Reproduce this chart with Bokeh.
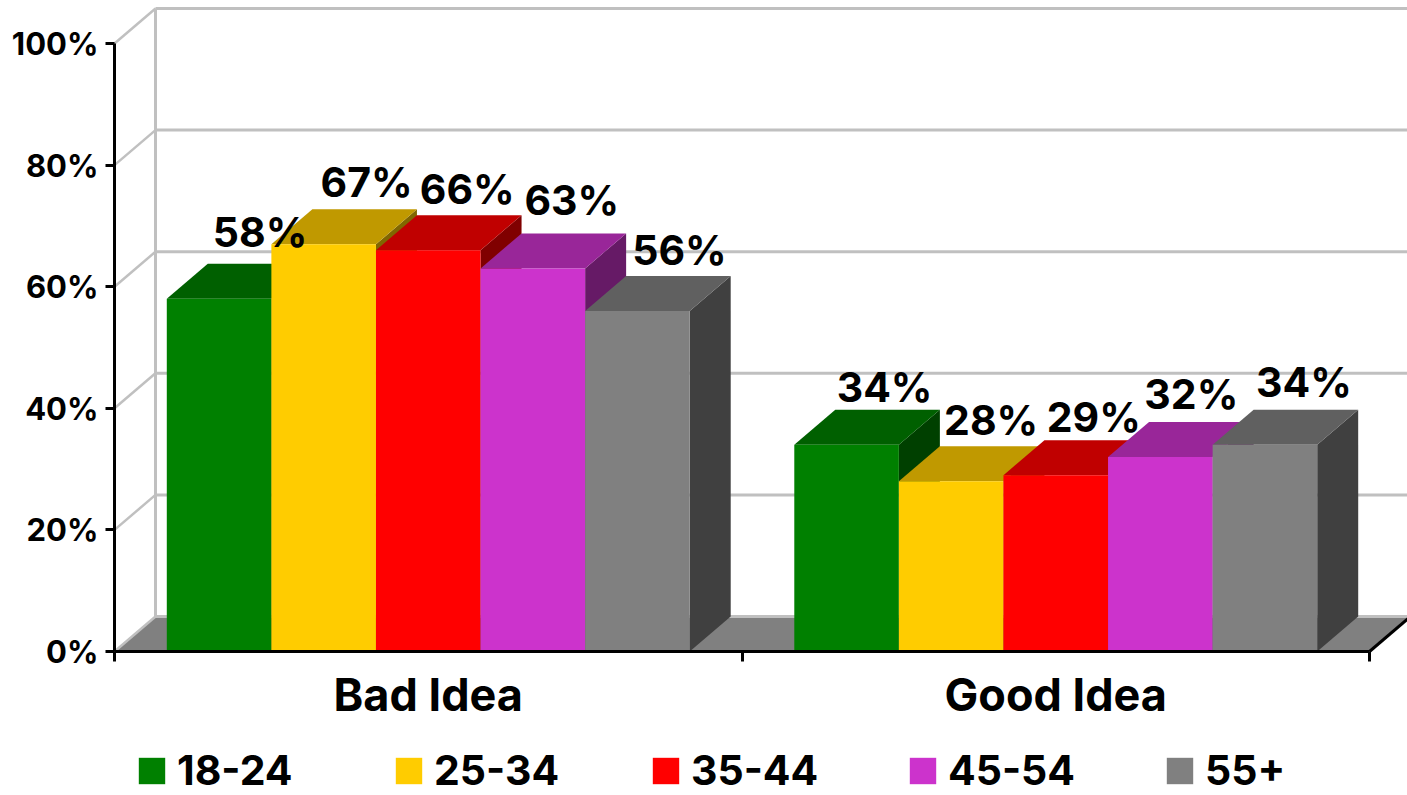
from bokeh.plotting import figure
from bokeh.embed import file_html
from bokeh.resources import INLINE
from bokeh.models import FixedTicker, Legend, LegendItem
from bokeh.core.properties import value

categories = ["Bad Idea", "Good Idea"]
series_names = ["18-24", "25-34", "35-44", "45-54", "55+"]
bad_idea = [58, 67, 66, 63, 56]
good_idea = [34, 28, 29, 32, 34]
front_colors = ["#008000", "#FFCC00", "#FF0000", "#CC33CC", "#808080"]
top_colors = ["#006000", "#C09900", "#C00000", "#992699", "#606060"]
side_colors = ["#004000", "#806600", "#800000", "#661A66", "#404040"]
y_ticks = [0, 20, 40, 60, 80, 100]

FONT = "Inter"
PX_X = 627.5   # pixels per category
PX_Y = 6.08    # pixels per percent
DX = 41 / PX_X
DY = 35 / PX_Y
BAR = 1 / 6
XMIN = -114 / PX_X
XMAX = 1293 / PX_X
YMIN = -144 / PX_Y
YMAX = 651 / PX_Y
GRID = "#C0C0C0"
# hand placement of the data labels in the original, in pixels
nudge_x = [[0, 2, -2, -2, 1], [-3, -1, -3, -10, -2]]
nudge_up = [[16, 11, 10, 18, 10], [7, 10, 7, 12, 12]]

p = figure(width=1407, height=795, output_backend="svg", toolbar_location=None,
           x_range=(XMIN, XMAX), y_range=(YMIN, YMAX),
           min_border_left=0, min_border_right=0, min_border_top=0, min_border_bottom=0)
p.outline_line_color = None
p.grid.visible = False
p.background_fill_color = "white"
p.border_fill_color = "white"

# back wall, side wall and floor
p.patch([0, DX, 2 + DX, 2], [0, DY, DY, 0], fill_color="#808080", line_color=None)
p.segment([DX] * 6, [t + DY for t in y_ticks], [XMAX] * 6, [t + DY for t in y_ticks],
          line_color=GRID, line_width=3)
p.segment([0] * 6, y_ticks, [DX] * 6, [t + DY for t in y_ticks], line_color=GRID, line_width=2.5)
p.segment([DX], [DY], [DX], [100 + DY], line_color=GRID, line_width=3)
p.line([2, 2 + DX], [0, DY], line_color="black", line_width=3)

# bars
groups = [bad_idea, good_idea]
legend_items = []
for i, name in enumerate(series_names):
    lefts = [g + 1 / 12 + i * BAR for g in range(2)]
    rights = [l + BAR for l in lefts]
    vals = [groups[0][i], groups[1][i]]
    p.patches([[r, r + DX, r + DX, r] for r in rights],
              [[0, DY, v + DY, v] for v in vals],
              fill_color=side_colors[i], line_color=None)
    p.patches([[l, l + DX, r + DX, r] for l, r in zip(lefts, rights)],
              [[v, v + DY, v + DY, v] for v in vals],
              fill_color=top_colors[i], line_color=None)
    bars = p.quad(left=lefts, right=rights, bottom=0, top=vals,
                  fill_color=front_colors[i], line_color=None)
    legend_items.append(LegendItem(label=value(name), renderers=[bars]))

# data labels
for i in range(5):
    xs = [g + 1 / 12 + i * BAR + BAR / 2 + DX for g in range(2)]
    vals = [groups[0][i], groups[1][i]]
    p.text(xs, [v + DY + 2.6 for v in vals], text=[f"{v}%" for v in vals],
           x_offset=[nudge_x[g][i] for g in range(2)],
           y_offset=[-nudge_up[g][i] for g in range(2)],
           text_font=value(FONT), text_font_style="bold", text_font_size="41px",
           text_color="black", text_align="center", text_baseline="alphabetic")

# axes
yax = p.yaxis[0]
yax.fixed_location = 0
yax.ticker = FixedTicker(ticks=y_ticks)
yax.major_label_overrides = {t: f"{t}%" for t in y_ticks}
yax.bounds = (0, 100)
yax.axis_line_color = "black"
yax.axis_line_width = 3
yax.major_tick_line_width = 3
yax.major_tick_line_color = "black"
yax.major_tick_in = 0
yax.major_tick_out = 9
yax.minor_tick_line_color = None
yax.major_label_standoff = 7
yax.major_label_text_font = FONT
yax.major_label_text_font_style = "bold"
yax.major_label_text_font_size = "31px"
yax.major_label_text_color = "black"

xax = p.xaxis[0]
xax.fixed_location = 0
xax.ticker = FixedTicker(ticks=[0.5, 1.5], minor_ticks=[0, 1, 2])
xax.major_label_overrides = {0.5: categories[0], 1.5: categories[1]}
xax.bounds = (0, 2)
xax.axis_line_color = "black"
xax.axis_line_width = 3
xax.major_tick_line_color = None
xax.major_tick_in = 0
xax.major_tick_out = 0
xax.minor_tick_line_color = "black"
xax.minor_tick_line_width = 3
xax.minor_tick_in = 0
xax.minor_tick_out = 10
xax.major_label_standoff = 5
xax.major_label_text_font = FONT
xax.major_label_text_font_style = "bold"
xax.major_label_text_font_size = "45px"
xax.major_label_text_color = "black"

legend = Legend(items=legend_items, orientation="horizontal", location=(135, 0),
                glyph_width=33, glyph_height=33, label_standoff=9, spacing=0,
                label_width=215, padding=0, margin=0, border_line_color=None,
                background_fill_color=None, background_fill_alpha=0,
                label_text_font=FONT, label_text_font_style="bold",
                label_text_font_size="41px", label_text_color="black")
p.add_layout(legend, "center")

open("out.html", "w").write(file_html(p, INLINE))
